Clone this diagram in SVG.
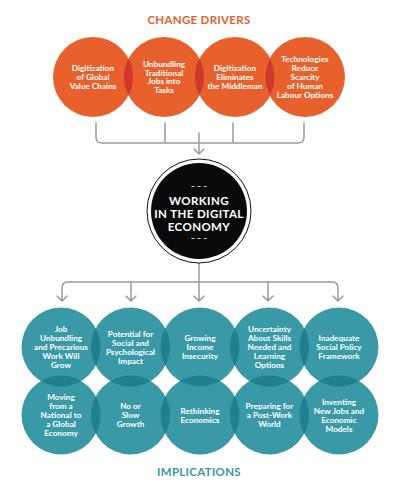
<svg xmlns="http://www.w3.org/2000/svg" width="400" height="494" viewBox="0 0 400 494">
<style>
.o{fill:#e8612c}
.ol{fill:#cf392d}
.t{fill:#3a99a7}
.tl{fill:#20808d}
.lbl{font-family:Lato,"Open Sans",sans-serif;font-weight:700;font-size:8.2px;fill:#fff;text-anchor:middle}
.hd{font-family:Lato,"Open Sans",sans-serif;font-weight:700;font-size:11.5px;text-anchor:middle;letter-spacing:0.3px}
.ctr{font-family:Lato,"Open Sans",sans-serif;font-weight:700;font-size:11.5px;fill:#fff;text-anchor:middle;letter-spacing:0.4px}
.ln{fill:none;stroke:#9a9a9a;stroke-width:1.5;stroke-linecap:round;stroke-linejoin:round}
</style>
<rect width="400" height="494" fill="#fff"/>
<text class="hd" x="199" y="24" fill="#e8612c">CHANGE DRIVERS</text>

<g id="connectors">
<path class="ln" d="M96,123 V137 Q96,143 102,143 H298 Q304,143 304,137 V123 M165,123 V143 M233,123 V143 M199,133 V154 M194,149 L199,154 L204,149"/>
<path class="ln" d="M199,263 V301 M62,301 V288 Q62,282 68,282 H332 Q338,282 338,288 V301 M131,282 V301 M268,282 V301 M57,296 L62,301 L67,296 M126,296 L131,301 L136,296 M194,296 L199,301 L204,296 M263,296 L268,301 L273,296 M333,296 L338,301 L343,296"/>
</g>

<g id="driver-circles">
<circle class="o" cx="93" cy="77" r="40"/>
<circle class="o" cx="164" cy="77" r="40"/>
<circle class="o" cx="235" cy="77" r="40"/>
<circle class="o" cx="305" cy="77" r="40"/>
</g>
<g id="driver-overlaps">
<path class="ol" d="M128.5,58.4 A40,40 0 0 1 128.5,95.6 A40,40 0 0 1 128.5,58.4Z"/>
<path class="ol" d="M199.5,58.4 A40,40 0 0 1 199.5,95.6 A40,40 0 0 1 199.5,58.4Z"/>
<path class="ol" d="M270,58.7 A40,40 0 0 1 270,95.3 A40,40 0 0 1 270,58.7Z"/>
</g>
<g id="driver1"><text class="lbl"><tspan x="93" y="71.2">Digitization</tspan><tspan x="93" y="80">of Global</tspan><tspan x="93" y="88.8">Value Chains</tspan></text></g>
<g id="driver2"><text class="lbl"><tspan x="164" y="66.8">Unbundling</tspan><tspan x="164" y="75.6">Traditional</tspan><tspan x="164" y="84.4">Jobs into</tspan><tspan x="164" y="93.2">Tasks</tspan></text></g>
<g id="driver3"><text class="lbl"><tspan x="235" y="71.2">Digitization</tspan><tspan x="235" y="80">Eliminates</tspan><tspan x="235" y="88.8">the Middleman</tspan></text></g>
<g id="driver4"><text class="lbl"><tspan x="305" y="62.4">Technologies</tspan><tspan x="305" y="71.2">Reduce</tspan><tspan x="305" y="80">Scarcity</tspan><tspan x="305" y="88.8">of Human</tspan><tspan x="305" y="97.6">Labour Options</tspan></text></g>

<g id="center">
<circle cx="199" cy="211" r="52" fill="#fff" stroke="#111" stroke-width="1"/>
<circle cx="199" cy="211" r="48" fill="#0a0a0a"/>
<text class="ctr" style="font-size:7.5px;letter-spacing:0"><tspan x="199" y="188.5">– – –</tspan></text>
<text class="ctr"><tspan x="199" y="205">WORKING</tspan><tspan x="199" y="218">IN THE DIGITAL</tspan><tspan x="199" y="231">ECONOMY</tspan></text>
<text class="ctr" style="font-size:7.5px;letter-spacing:0"><tspan x="199" y="240.5">– – –</tspan></text>
</g>

<g id="impl-circles">
<circle class="t" cx="61" cy="347" r="39.5"/>
<circle class="t" cx="130.5" cy="347" r="39.5"/>
<circle class="t" cx="200" cy="347" r="39.5"/>
<circle class="t" cx="269.5" cy="347" r="39.5"/>
<circle class="t" cx="339" cy="347" r="39.5"/>
<circle class="t" cx="61" cy="415" r="39.5"/>
<circle class="t" cx="130.5" cy="415" r="39.5"/>
<circle class="t" cx="200" cy="415" r="39.5"/>
<circle class="t" cx="269.5" cy="415" r="39.5"/>
<circle class="t" cx="339" cy="415" r="39.5"/>
</g>
<g id="impl-overlaps">
<path class="tl" d="M95.75,328.2 A39.5,39.5 0 0 1 95.75,365.8 A39.5,39.5 0 0 1 95.75,328.2Z"/>
<path class="tl" d="M165.25,328.2 A39.5,39.5 0 0 1 165.25,365.8 A39.5,39.5 0 0 1 165.25,328.2Z"/>
<path class="tl" d="M234.75,328.2 A39.5,39.5 0 0 1 234.75,365.8 A39.5,39.5 0 0 1 234.75,328.2Z"/>
<path class="tl" d="M304.25,328.2 A39.5,39.5 0 0 1 304.25,365.8 A39.5,39.5 0 0 1 304.25,328.2Z"/>
<path class="tl" d="M95.75,396.2 A39.5,39.5 0 0 1 95.75,433.8 A39.5,39.5 0 0 1 95.75,396.2Z"/>
<path class="tl" d="M165.25,396.2 A39.5,39.5 0 0 1 165.25,433.8 A39.5,39.5 0 0 1 165.25,396.2Z"/>
<path class="tl" d="M234.75,396.2 A39.5,39.5 0 0 1 234.75,433.8 A39.5,39.5 0 0 1 234.75,396.2Z"/>
<path class="tl" d="M304.25,396.2 A39.5,39.5 0 0 1 304.25,433.8 A39.5,39.5 0 0 1 304.25,396.2Z"/>
<path class="tl" d="M40.9,381 A39.5,39.5 0 0 0 81.1,381 A39.5,39.5 0 0 0 40.9,381Z"/>
<path class="tl" d="M110.4,381 A39.5,39.5 0 0 0 150.6,381 A39.5,39.5 0 0 0 110.4,381Z"/>
<path class="tl" d="M179.9,381 A39.5,39.5 0 0 0 220.1,381 A39.5,39.5 0 0 0 179.9,381Z"/>
<path class="tl" d="M249.4,381 A39.5,39.5 0 0 0 289.6,381 A39.5,39.5 0 0 0 249.4,381Z"/>
<path class="tl" d="M318.9,381 A39.5,39.5 0 0 0 359.1,381 A39.5,39.5 0 0 0 318.9,381Z"/>
</g>

<g id="impl1"><text class="lbl"><tspan x="61" y="332">Job</tspan><tspan x="61" y="341">Unbundling</tspan><tspan x="61" y="350">and Precarious</tspan><tspan x="61" y="359">Work Will</tspan><tspan x="61" y="368">Grow</tspan></text></g>
<g id="impl2"><text class="lbl"><tspan x="130.5" y="336.5">Potential for</tspan><tspan x="130.5" y="345.5">Social and</tspan><tspan x="130.5" y="354.5">Psychological</tspan><tspan x="130.5" y="363.5">Impact</tspan></text></g>
<g id="impl3"><text class="lbl"><tspan x="200" y="341">Growing</tspan><tspan x="200" y="350">Income</tspan><tspan x="200" y="359">Insecurity</tspan></text></g>
<g id="impl4"><text class="lbl"><tspan x="269.5" y="332">Uncertainty</tspan><tspan x="269.5" y="341">About Skills</tspan><tspan x="269.5" y="350">Needed and</tspan><tspan x="269.5" y="359">Learning</tspan><tspan x="269.5" y="368">Options</tspan></text></g>
<g id="impl5"><text class="lbl"><tspan x="339" y="341">Inadequate</tspan><tspan x="339" y="350">Social Policy</tspan><tspan x="339" y="359">Framework</tspan></text></g>
<g id="impl6"><text class="lbl"><tspan x="61" y="400">Moving</tspan><tspan x="61" y="409">from a</tspan><tspan x="61" y="418">National to</tspan><tspan x="61" y="427">a Global</tspan><tspan x="61" y="436">Economy</tspan></text></g>
<g id="impl7"><text class="lbl"><tspan x="130.5" y="409">No or</tspan><tspan x="130.5" y="418">Slow</tspan><tspan x="130.5" y="427">Growth</tspan></text></g>
<g id="impl8"><text class="lbl"><tspan x="200" y="413.5">Rethinking</tspan><tspan x="200" y="422.5">Economics</tspan></text></g>
<g id="impl9"><text class="lbl"><tspan x="269.5" y="409">Preparing for</tspan><tspan x="269.5" y="418">a Post-Work</tspan><tspan x="269.5" y="427">World</tspan></text></g>
<g id="impl10"><text class="lbl"><tspan x="339" y="404.5">Inventing</tspan><tspan x="339" y="413.5">New Jobs and</tspan><tspan x="339" y="422.5">Economic</tspan><tspan x="339" y="431.5">Models</tspan></text></g>

<text class="hd" x="199" y="475.5" fill="#3a98a6">IMPLICATIONS</text>
</svg>
